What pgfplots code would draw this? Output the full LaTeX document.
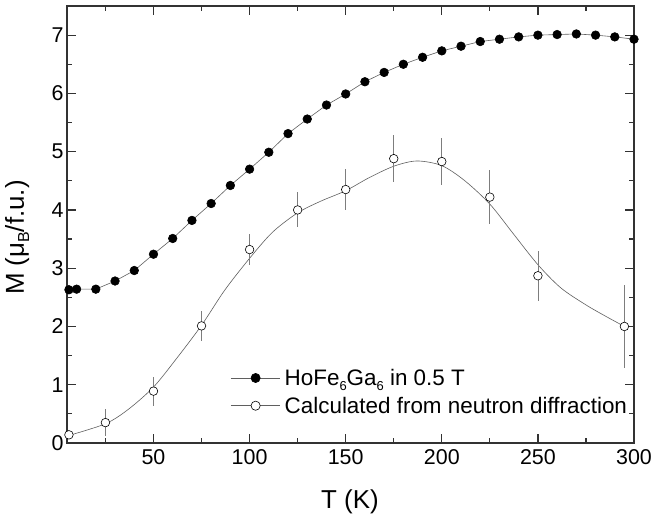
\documentclass[border=0pt]{standalone}
\usepackage{fontspec}
\setmainfont{Liberation Sans}
\usepackage{pgfplots}
\pgfplotsset{compat=1.18}
\definecolor{lincol}{RGB}{95,95,95}
\definecolor{errcol}{RGB}{125,125,125}
\definecolor{framecol}{RGB}{50,50,50}
\newcommand\lsub[1]{\raisebox{-0.42ex}{\fontsize{13}{14}\selectfont #1}}
\newcommand\ysub[1]{\raisebox{-0.38ex}{\fontsize{16}{17}\selectfont #1}}
\begin{document}
\begin{tikzpicture}
\begin{axis}[
  scale only axis, width=567bp, height=437bp,
  xmin=5, xmax=300, ymin=0, ymax=7.5,
  xtick={50,100,...,300}, minor xtick={25,75,...,275},
  ytick={0,1,...,7}, minor ytick={0.5,1.5,...,7.5},
  tick align=inside, major tick length=9bp, minor tick length=5bp,
  axis line style={line width=1.6bp, framecol},
  every tick/.style={line width=1.2bp, framecol},
  /pgf/number format/assume math mode=true,
  ticklabel style={font=\fontsize{21.5}{24}\selectfont},
  xticklabel style={yshift=-3bp},
  xlabel={T (K)}, ylabel={M (μ\ysub{B}/f.u.)},
  label style={font=\fontsize{26}{30}\selectfont},
  xlabel style={at={(rel axis cs:0.499,-0.134)}, anchor=center},
  ylabel style={at={(rel axis cs:-0.088,0.47)}, anchor=center, rotate=0},
  legend style={draw=none, fill=none, at={(rel axis cs:0.995,0.06)}, anchor=south east,
    font=\fontsize{22.5}{25}\selectfont, row sep=6bp, inner sep=0pt,
    /tikz/every node/.append style={inner xsep=4bp}},
  legend cell align=left,
  clip=true,
]
\coordinate (bl) at (rel axis cs:0,0);
\coordinate (tr) at (rel axis cs:1,1);

\addplot[lincol, line width=0.6bp, mark=*, mark size=4.3bp,
  mark options={fill=black, draw=black, solid},
  legend image code/.code={
    \draw[lincol, line width=0.6bp] (0cm,0cm) -- (1.75cm,0cm);
    \fill[black] (0.875cm,0cm) circle (4.6bp);}]
coordinates {
(6,2.63) (10,2.64) (20,2.64) (30,2.78) (40,2.96) (50,3.24) (60,3.51) (70,3.82)
(80,4.11) (90,4.42) (100,4.70) (110,4.99) (120,5.31) (130,5.56) (140,5.80)
(150,5.99) (160,6.20) (170,6.36) (180,6.50) (190,6.62) (200,6.73) (210,6.81)
(220,6.89) (230,6.93) (240,6.97) (250,7.00) (260,7.01) (270,7.02) (280,7.00)
(290,6.97) (300,6.93)
};
\addlegendentry{HoFe\lsub{6}Ga\lsub{6} in 0.5 T}

\addplot[lincol, line width=0.6bp, smooth, tension=0.5, forget plot] coordinates {
(5,0.12) (25,0.33) (37,0.58) (50,0.96) (62,1.45) (75,2.02) (87,2.62) (100,3.17)
(112,3.62) (125,3.95) (137,4.15) (150,4.33) (162,4.55) (175,4.75) (187,4.84)
(200,4.76) (212,4.50) (225,4.10) (237,3.60) (250,3.06) (262,2.66) (275,2.37)
(285,2.18) (295,2.00)
};

\addplot[only marks, mark=*, mark size=4.3bp,
  mark options={fill=white, draw=black, line width=0.6bp},
  error bars/.cd, y dir=both, y explicit,
  error bar style={errcol, line width=0.8bp}, error mark=none]
coordinates {
(6,0.14) +- (0,0.05)
(25,0.35) +- (0,0.23)
(50,0.89) +- (0,0.25)
(75,2.01) +- (0,0.26)
(100,3.32) +- (0,0.26)
(125,4.00) +- (0,0.30)
(150,4.35) +- (0,0.35)
(175,4.88) +- (0,0.40)
(200,4.83) +- (0,0.40)
(225,4.22) +- (0,0.47)
(250,2.87) +- (0,0.43)
(295,2.00) +- (0,0.71)
};
\addlegendentry{Calculated from neutron diffraction}
\pgfplotsset{legend image code/.code={
    \draw[lincol, line width=0.6bp] (0cm,0cm) -- (1.75cm,0cm);
    \draw[black, fill=white, line width=0.6bp] (0.875cm,0cm) circle (4.6bp);}}
\end{axis}
\pgfresetboundingbox
\path ([xshift=-67bp,yshift=-81bp]bl) rectangle ([xshift=19bp,yshift=6bp]tr);
\end{tikzpicture}
\end{document}
